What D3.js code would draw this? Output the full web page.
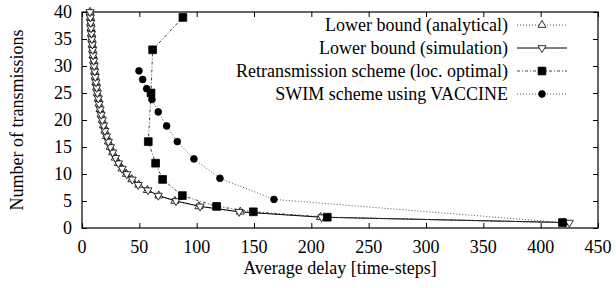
<!DOCTYPE html>
<html lang="en">
<head>
<meta charset="UTF-8">
<title>Number of transmissions vs delay</title>
<script src="https://cdnjs.cloudflare.com/ajax/libs/d3/7.8.5/d3.min.js"></script>
<style>
  body { margin: 0; padding: 0; background: #fff; }
  svg text { font-family: "Liberation Serif", "Times New Roman", serif; fill: #000; }
</style>
</head>
<body>
<div id="chart"></div>
<script>
// Lower bound (analytical): delay / transmissions
const analyticX = [420, 208, 138, 102, 81, 67, 57, 49.5, 43.5, 38.8, 34.9, 31.7, 29, 26.7, 24.6, 22.9, 21.3, 19.9, 18.7, 17.6,
                   16.6, 15.7, 14.8, 14.1, 13.3, 12.7, 12.1, 11.5, 11.0, 10.5, 10.1, 9.6, 9.2, 8.9, 8.5, 8.2, 7.8, 7.5, 7.3, 7.0];
const analyticY = [1, 2, 3, 4, 5, 6, 7, 8, 9, 10, 11, 12, 13, 14, 15, 16, 17, 18, 19, 20,
                   21, 22, 23, 24, 25, 26, 27, 28, 29, 30, 31, 32, 33, 34, 35, 36, 37, 38, 39, 40];

// Lower bound (simulation)
const simX = [425, 209, 137, 103, 82, 66.5, 57.5, 49, 43.8, 39, 35, 31.8, 29.2, 26.8, 24.8, 23, 21.4, 20, 18.8, 17.7,
              16.7, 15.8, 14.9, 14.2, 13.4, 12.8, 12.2, 11.6, 11.1, 10.6, 10.2, 9.7, 9.3, 9.0, 8.6, 8.3, 7.9, 7.6, 7.3, 7.0];
const simY = analyticY.slice();

// Retransmission scheme (loc. optimal)
const retransX = [88, 61.6, 60.2, 57.8, 64.2, 70.3, 87.5, 117.4, 149.4, 213.9, 419];
const retransY = [39, 33, 25, 16, 12, 9, 6, 4, 3, 2, 1];

// SWIM scheme using VACCINE
const swimX = [49.7, 52.9, 56.4, 61, 66.5, 73.8, 83.1, 97.6, 120.3, 167.4, 419];
const swimY = [29.1, 27.5, 25.8, 23.8, 21.5, 18.9, 16.0, 12.8, 9.2, 5.3, 1];

const xTicks = [0, 50, 100, 150, 200, 250, 300, 350, 400, 450];
const yTicks = [0, 5, 10, 15, 20, 25, 30, 35, 40];

const legendNames = ["Lower bound (analytical)", "Lower bound (simulation)",
                     "Retransmission scheme (loc. optimal)", "SWIM scheme using VACCINE"];

const width = 616, height = 288;
const margin = { top: 12, right: 18, bottom: 60, left: 82 };
const fontSize = 18;

const svg = d3.select('#chart').append('svg')
    .attr('width', width)
    .attr('height', height);

const x = d3.scaleLinear().domain([0, 450]).range([margin.left, width - margin.right]);
const y = d3.scaleLinear().domain([0, 40]).range([height - margin.bottom, margin.top]);

const tickLen = 5;

// axes with inward ticks, mirrored like gnuplot
svg.append('g')
    .attr('transform', `translate(0,${y(0)})`)
    .call(d3.axisTop(x).tickValues(xTicks).tickSize(tickLen).tickFormat(''))
    .call(g => g.select('.domain').remove());
svg.append('g')
    .attr('transform', `translate(0,${y(40)})`)
    .call(d3.axisBottom(x).tickValues(xTicks).tickSize(tickLen).tickFormat(''))
    .call(g => g.select('.domain').remove());
svg.append('g')
    .attr('transform', `translate(${x(0)},0)`)
    .call(d3.axisRight(y).tickValues(yTicks).tickSize(tickLen).tickFormat(''))
    .call(g => g.select('.domain').remove());
svg.append('g')
    .attr('transform', `translate(${x(450)},0)`)
    .call(d3.axisLeft(y).tickValues(yTicks).tickSize(tickLen).tickFormat(''))
    .call(g => g.select('.domain').remove());

svg.selectAll('.tick line').attr('stroke', '#000');

// tick labels
svg.append('g').selectAll('text')
    .data(xTicks)
    .join('text')
    .attr('x', d => x(d))
    .attr('y', y(0) + 25)
    .attr('text-anchor', 'middle')
    .attr('font-size', fontSize)
    .text(d => d);

svg.append('g').selectAll('text')
    .data(yTicks)
    .join('text')
    .attr('x', x(0) - 10)
    .attr('y', d => y(d) + 6)
    .attr('text-anchor', 'end')
    .attr('font-size', fontSize)
    .text(d => d);

// border
svg.append('rect')
    .attr('x', x(0)).attr('y', y(40))
    .attr('width', x(450) - x(0)).attr('height', y(0) - y(40))
    .attr('fill', 'none').attr('stroke', '#000').attr('stroke-width', 1.2);

// axis titles
svg.append('text')
    .attr('x', (x(0) + x(450)) / 2)
    .attr('y', 274)
    .attr('text-anchor', 'middle')
    .attr('font-size', fontSize)
    .text('Average delay [time-steps]');

svg.append('text')
    .attr('transform', `translate(23,${(y(0) + y(40)) / 2}) rotate(-90)`)
    .attr('text-anchor', 'middle')
    .attr('font-size', fontSize)
    .text('Number of transmissions');

// series
const series = [
    { xs: analyticX, ys: analyticY, dash: '1,2', color: '#555', sym: d3.symbolTriangle, fill: '#fff', size: 28 },
    { xs: simX, ys: simY, dash: null, color: '#000', sym: 'nabla', fill: '#fff', size: 28 },
    { xs: retransX, ys: retransY, dash: '3,2,1,2', color: '#444', sym: d3.symbolSquare, fill: '#000', size: 60 },
    { xs: swimX, ys: swimY, dash: '1,2', color: '#555', sym: d3.symbolCircle, fill: '#000', size: 36 }
];

const line = d3.line().x(d => x(d[0])).y(d => y(d[1]));

function symbolPath(s) {
    if (s.sym === 'nabla') return d3.symbol(d3.symbolTriangle, s.size)();
    return d3.symbol(s.sym, s.size)();
}

series.forEach(s => {
    const pts = s.xs.map((v, i) => [v, s.ys[i]]);
    svg.append('path')
        .datum(pts)
        .attr('d', line)
        .attr('fill', 'none')
        .attr('stroke', s.color)
        .attr('stroke-width', 1)
        .attr('stroke-dasharray', s.dash);
});

series.forEach(s => {
    const pts = s.xs.map((v, i) => [v, s.ys[i]]);
    svg.append('g').selectAll('path')
        .data(pts)
        .join('path')
        .attr('d', symbolPath(s))
        .attr('transform', d => `translate(${x(d[0])},${y(d[1])})` + (s.sym === 'nabla' ? ' rotate(180)' : ''))
        .attr('fill', s.fill)
        .attr('stroke', '#000')
        .attr('stroke-width', 0.8);
});

// legend
const legendY = [25, 48, 71, 94];
const legend = svg.append('g');
legendNames.forEach((name, i) => {
    const s = series[i];
    const ly = legendY[i];
    legend.append('text')
        .attr('x', 508)
        .attr('y', ly + 6)
        .attr('text-anchor', 'end')
        .attr('font-size', fontSize)
        .text(name);
    legend.append('line')
        .attr('x1', 517).attr('x2', 567)
        .attr('y1', ly).attr('y2', ly)
        .attr('stroke', s.color)
        .attr('stroke-width', 1)
        .attr('stroke-dasharray', s.dash);
    legend.append('path')
        .attr('d', symbolPath(s))
        .attr('transform', `translate(542,${ly})` + (s.sym === 'nabla' ? ' rotate(180)' : ''))
        .attr('fill', s.fill)
        .attr('stroke', '#000')
        .attr('stroke-width', 0.8);
});
</script>
</body>
</html>
